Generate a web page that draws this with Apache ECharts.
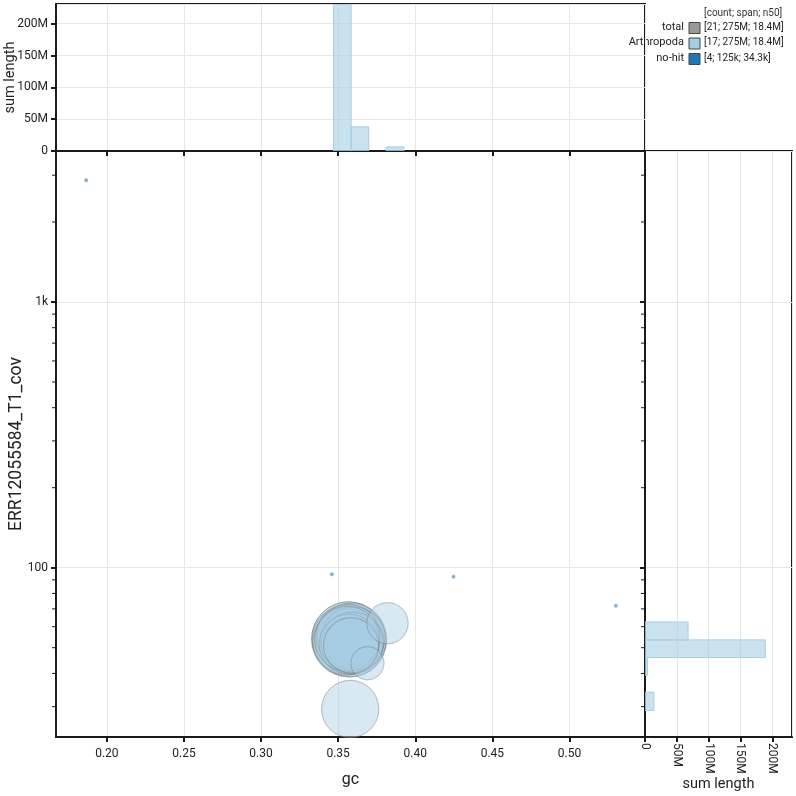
<!DOCTYPE html>
<html>
<head>
<meta charset="utf-8">
<title>blob plot</title>
<script src="https://cdn.jsdelivr.net/npm/echarts@6/dist/echarts.min.js"></script>
<style>
  html, body { margin: 0; padding: 0; background: #fff; }
  #main { width: 796px; height: 796px; }
</style>
</head>
<body>
<div id="main"></div>
<script>
// axis ranges
const gcMin = 0.167;
const gcMax = 0.549;
const covMin = 23.06;
const covMax = 3700;
const sumMax = 231e6;

// Arthropoda contigs: gc, coverage, length
const arthGc = [0.3571, 0.3565, 0.3578, 0.3558, 0.3584, 0.3552, 0.3597, 0.3610, 0.3578, 0.3565, 0.3591, 0.3571, 0.3558, 0.3584, 0.3820, 0.3690, 0.3578];
const arthCov = [53.7, 54.3, 53.0, 53.5, 54.8, 52.5, 53.5, 52.6, 49.7, 55.3, 52.1, 51.6, 54.0, 51.0, 61.8, 43.7, 29.4];
const arthLen = [24.2e6, 22.6e6, 22.0e6, 20.8e6, 19.7e6, 19.0e6, 18.5e6, 14.3e6, 8.8e6, 17.4e6, 16.3e6, 15.3e6, 18.0e6, 13.0e6, 7.3e6, 4.7e6, 14.0e6];

// no-hit contigs
const nohitGc = [0.1866, 0.3459, 0.4248, 0.5301];
const nohitCov = [2871, 94.4, 92.5, 71.9];
const nohitLen = [18e3, 23e3, 50e3, 34e3];

// gc histogram (top)
const gcBinStart = [0.3470, 0.3584, 0.3812];
const gcBinEnd = [0.3584, 0.3698, 0.3926];
const gcBinSum = [230e6, 38e6, 6.5e6];

// coverage histogram (right)
const covBinLow = [53.5, 45.9, 39.4, 29.0];
const covBinHigh = [62.5, 53.5, 45.9, 34.0];
const covBinSum = [67.7e6, 189e6, 4e6, 14e6];

// log minor ticks
const covMinorTicks = [30, 40, 50, 60, 70, 80, 90, 200, 300, 400, 500, 600, 700, 800, 900, 2000, 3000];

// legend
const legendHeader = '[count; span; n50]';
const legendNames = ['total', 'Arthropoda', 'no-hit'];
const legendStats = ['[21; 275M; 18.4M]', '[17; 275M; 18.4M]', '[4; 125k; 34.3k]'];
const legendColors = ['#999999', '#a6cee3', '#1f78b4'];

const font = 'Roboto';
const ink = '#1a1a1a';
const gridColor = '#e6e6e6';

function bubbleSize(len) {
  return Math.max(3.5, 15.3 * Math.sqrt(len / 1e6));
}
function fmtLen(v) {
  return v === 0 ? '0' : (v / 1e6) + 'M';
}
function fmtCov(v) {
  return v >= 1000 ? Math.round(v / 1000) + 'k' : String(Math.round(v));
}

const axisLine = { show: true, onZero: false, lineStyle: { color: ink, width: 2 } };
const axisTick = { show: true, length: 5, lineStyle: { color: ink, width: 2 } };
const splitLine = { show: true, lineStyle: { color: gridColor, width: 1 } };
const labelStyle = { fontFamily: font, fontSize: 12, color: '#222' };
const nameStyle = { fontFamily: font, fontSize: 14.5, color: '#222' };

const barStyle = { fill: 'rgba(166,206,227,0.6)', stroke: '#a6cee3', lineWidth: 1 };

const chart = echarts.init(document.getElementById('main'), null, { renderer: 'canvas' });

const legendGraphics = [{
  type: 'text', left: 704, top: 8,
  style: { text: legendHeader, fontFamily: font, fontSize: 10, fill: '#333' }
}];
legendNames.forEach(function (name, i) {
  const cy = 28 + i * 15.5;
  legendGraphics.push({
    type: 'text', right: 796 - 684, top: cy - 6.5,
    style: { text: name, fontFamily: font, fontSize: 11, fill: '#222', align: 'right' }
  });
  legendGraphics.push({
    type: 'rect', shape: { x: 689, y: cy - 5.5, width: 11, height: 11 },
    style: { fill: legendColors[i], stroke: '#444', lineWidth: 1 }
  });
  legendGraphics.push({
    type: 'text', left: 704, top: cy - 6,
    style: { text: legendStats[i], fontFamily: font, fontSize: 10, fill: '#222' }
  });
});

const option = {
  animation: false,
  backgroundColor: '#fff',
  textStyle: { fontFamily: font },
  grid: [
    { left: 56, top: 4, width: 589, height: 147, show: true, borderColor: ink, borderWidth: 2, backgroundColor: 'transparent', outerBoundsMode: 'none' },
    { left: 56, top: 151, width: 589, height: 586, show: true, borderColor: ink, borderWidth: 2, backgroundColor: 'transparent', outerBoundsMode: 'none' },
    { left: 645, top: 151, width: 147, height: 586, show: true, borderColor: ink, borderWidth: 2, backgroundColor: 'transparent', outerBoundsMode: 'none' }
  ],
  xAxis: [
    { gridIndex: 0, type: 'value', min: gcMin, max: gcMax, splitNumber: 7,
      axisLine: axisLine, axisTick: axisTick, splitLine: splitLine,
      axisLabel: { show: false } },
    { gridIndex: 1, type: 'value', min: gcMin, max: gcMax, splitNumber: 7,
      axisLine: axisLine, axisTick: axisTick, splitLine: splitLine,
      axisLabel: Object.assign({ showMinLabel: false, showMaxLabel: false, margin: 11,
        formatter: function (v) { return v.toFixed(2); } }, labelStyle),
      name: 'gc', nameLocation: 'middle', nameGap: 35, nameMoveOverlap: false,
      nameTextStyle: Object.assign({}, nameStyle, { fontSize: 16 }) },
    { gridIndex: 2, type: 'value', min: 0, max: sumMax, splitNumber: 5,
      axisLine: axisLine, axisTick: axisTick, splitLine: splitLine,
      axisLabel: Object.assign({ rotate: -90, showMaxLabel: false, margin: 6, formatter: fmtLen }, labelStyle),
      name: 'sum length', nameLocation: 'middle', nameGap: 40, nameMoveOverlap: false, nameTextStyle: nameStyle }
  ],
  yAxis: [
    { gridIndex: 0, type: 'value', min: 0, max: sumMax, splitNumber: 5,
      axisLine: axisLine, axisTick: axisTick, splitLine: splitLine,
      axisLabel: Object.assign({ showMaxLabel: false, margin: 8, formatter: fmtLen }, labelStyle),
      name: 'sum length', nameLocation: 'middle', nameGap: 38, nameMoveOverlap: false, nameTextStyle: nameStyle },
    { gridIndex: 1, type: 'log', logBase: 10, min: covMin, max: covMax,
      axisLine: axisLine, axisTick: axisTick, splitLine: splitLine,
      axisLabel: Object.assign({ showMinLabel: false, showMaxLabel: false, margin: 8, formatter: fmtCov }, labelStyle),
      name: 'ERR12055584_T1_cov', nameLocation: 'middle', nameGap: 30, nameMoveOverlap: false,
      nameTextStyle: Object.assign({}, nameStyle, { fontSize: 17.5 }) },
    { gridIndex: 2, type: 'log', logBase: 10, min: covMin, max: covMax,
      axisLine: axisLine, axisTick: axisTick, splitLine: splitLine,
      axisLabel: { show: false } }
  ],
  graphic: legendGraphics,
  series: [
    {
      // top gc histogram
      type: 'custom', xAxisIndex: 0, yAxisIndex: 0, clip: true,
      encode: { x: [0, 1], y: 2 },
      data: gcBinSum.map(function (s, i) { return [gcBinStart[i], gcBinEnd[i], s]; }),
      renderItem: function (params, api) {
        const p0 = api.coord([api.value(0), api.value(2)]);
        const p1 = api.coord([api.value(1), 0]);
        return { type: 'rect', shape: { x: p0[0], y: p0[1], width: p1[0] - p0[0], height: p1[1] - p0[1] }, style: barStyle };
      }
    },
    {
      // right coverage histogram
      type: 'custom', xAxisIndex: 2, yAxisIndex: 2, clip: true,
      encode: { x: 2, y: [0, 1] },
      data: covBinSum.map(function (s, i) { return [covBinLow[i], covBinHigh[i], s]; }),
      renderItem: function (params, api) {
        const p0 = api.coord([api.value(2), api.value(1)]);
        const p1 = api.coord([0, api.value(0)]);
        return { type: 'rect', shape: { x: p1[0], y: p0[1], width: p0[0] - p1[0], height: p1[1] - p0[1] }, style: barStyle };
      }
    },
    {
      name: 'Arthropoda', type: 'scatter', xAxisIndex: 1, yAxisIndex: 1,
      data: arthGc.map(function (g, i) { return [g, arthCov[i], arthLen[i]]; }),
      symbolSize: function (d) { return bubbleSize(d[2]); },
      itemStyle: { color: 'rgba(166,206,227,0.55)', borderColor: 'rgba(120,120,120,0.6)', borderWidth: 1 }
    },
    {
      name: 'no-hit', type: 'scatter', xAxisIndex: 1, yAxisIndex: 1,
      data: nohitGc.map(function (g, i) { return [g, nohitCov[i], nohitLen[i]]; }),
      symbolSize: function (d) { return bubbleSize(d[2]); },
      itemStyle: { color: 'rgba(31,120,180,0.7)', borderColor: 'rgba(120,120,120,0.5)', borderWidth: 0.5 }
    },
    {
      // log minor ticks on main y axis (left, outward) and right histogram axis (inward)
      type: 'custom', xAxisIndex: 1, yAxisIndex: 1, clip: false, silent: true,
      encode: { x: 0, y: 1 },
      data: covMinorTicks.map(function (v) { return [gcMin, v]; }),
      renderItem: function (params, api) {
        const y = api.coord([api.value(0), api.value(1)])[1];
        const cs = params.coordSys;
        const st = { stroke: ink, lineWidth: 1 };
        return { type: 'group', children: [
          { type: 'line', shape: { x1: cs.x - 4, y1: y, x2: cs.x, y2: y }, style: st },
          { type: 'line', shape: { x1: cs.x + cs.width - 4, y1: y, x2: cs.x + cs.width, y2: y }, style: st }
        ] };
      }
    }
  ]
};

chart.setOption(option);
</script>
</body>
</html>
